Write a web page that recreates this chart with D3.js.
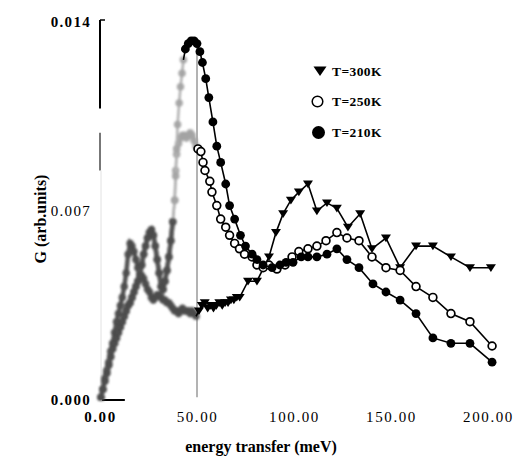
<!DOCTYPE html>
<html>
<head>
<meta charset="utf-8">
<script src="https://cdn.jsdelivr.net/npm/d3@7"></script>
<style>
  body { margin: 0; background: #fff; }
  svg { display: block; }
  text { font-family: "Liberation Serif", "Times New Roman", serif; fill: #000; }
</style>
</head>
<body>
<svg id="chart" width="516" height="459"></svg>
<script>
// Axis ticks
const xTicks = [0, 50, 100, 150, 200];
const xTickLabels = ["0.00", "50.00", "100.00", "150.00", "200.00"];
const yTicks = [0, 0.007, 0.014];
const yTickLabels = ["0.000", "0.007", "0.014"];
const legendLabels = ["T=300K", "T=250K", "T=210K"];

// Generalized density of states, [energy transfer (meV), G]
const t300K = [
  [0.5,0.0001],[1.5,0.0004],[2.5,0.0008],[3.5,0.0011],[4.5,0.0014],[5.5,0.0018],[6.5,0.0021],[7.5,0.0025],[8.5,0.0029],[9.5,0.0032],
  [10.5,0.0035],[11.5,0.0038],[12.5,0.0042],[13.5,0.0047],[14.5,0.0054],[15.5,0.0058],[16.5,0.0057],[17.5,0.0055],[18.5,0.0052],[19.5,0.0049],
  [20.5,0.0047],[21.5,0.0046],[22.5,0.0045],[23.5,0.0043],[24.5,0.0041],[25.5,0.0040],[26.5,0.0038],[27.5,0.0037],[28.5,0.0038],[29.5,0.0039],
  [30.5,0.0039],[31.5,0.0038],[32.5,0.0037],[33.5,0.0037],[34.5,0.0036],[35.5,0.0036],[36.5,0.0035],[37.5,0.0034],[38.5,0.0033],[39.5,0.0033],
  [40.5,0.0032],[41.5,0.0033],[42.5,0.0034],[43.5,0.0033],[44.5,0.0033],[45.5,0.0033],[46.5,0.0032],[47.5,0.0033],[48.5,0.0032],[49.5,0.0031],
  [51,0.0033],[52.5,0.0035],[54,0.0036],[55.5,0.0034],[57,0.0035],[58.5,0.0034],[60,0.0035],[61.5,0.0036],[63,0.0035],[64.5,0.0036],
  [66,0.0036],[67.5,0.0037],[69,0.0037],[70.5,0.0038],[72,0.0038],
  [76.3,0.0044],[80.9,0.0044],[87.1,0.0053],[90.7,0.0062],[94.4,0.0069],[98.4,0.0074],[102.5,0.0077],[107.2,0.0080],[111.8,0.0070],
  [117.0,0.0073],[122.1,0.0071],[127.8,0.0064],[134.1,0.0069],[140.2,0.0056],[147.4,0.0060],[154.7,0.0049],[162.9,0.0057],[171.6,0.0057],
  [180.9,0.0053],[190.7,0.0049],[201.5,0.0049]
];

const t250K = [
  [0.5,0.0001],[1.5,0.0004],[2.5,0.0007],[3.5,0.0010],[4.5,0.0013],[5.5,0.0016],[6.5,0.0019],[7.5,0.0021],[8.5,0.0023],[9.5,0.0025],
  [10.5,0.0027],[11.5,0.0029],[12.5,0.0031],[13.5,0.0033],[14.5,0.0035],[15.5,0.0036],[16.5,0.0038],[17.5,0.0040],[18.5,0.0042],[19.5,0.0044],
  [20.5,0.0046],[21.5,0.0050],[22.5,0.0054],[23.5,0.0057],[24.5,0.0060],[25.5,0.0062],[26.5,0.0063],[27.5,0.0061],[28.5,0.0057],[29.5,0.0052],
  [30.5,0.0047],[31.5,0.0042],[32.5,0.0041],[33.5,0.0044],[34.5,0.0048],[35.5,0.0053],[36.5,0.0059],[37.5,0.0066],[38.5,0.0074],
  [39,0.0085],[39.5,0.0091],[40.5,0.0095],[41.5,0.0097],[42.5,0.0098],[43.5,0.0098],[44.5,0.0097],[45.5,0.0098],[46.5,0.0099],[47.5,0.0098],
  [48.5,0.0096],[49.5,0.0094],[50.5,0.0093],[52,0.0092],[53.1,0.0088],[54.1,0.0085],[56.6,0.0081],[57.7,0.0077],[60.2,0.0072],[62.2,0.0067],
  [64.8,0.0064],[66.8,0.0061],[69.4,0.0058],[71.9,0.0056],[74.5,0.0054],[78.4,0.0053],[80.9,0.0050],[84.1,0.0049],[87.1,0.0050],[91.2,0.00485],
  [95.4,0.0050],[99.0,0.0053],[102.5,0.0055],[107.2,0.0056],[111.8,0.0057],[116.5,0.0059],[122.1,0.0062],[127.3,0.0060],[133.5,0.0059],
  [140.2,0.0053],[147.4,0.0049],[154.7,0.0048],[162.9,0.0042],[171.6,0.0038],[180.9,0.0032],[190.7,0.0029],[202.1,0.0020]
];

const t210K = [
  [0.5,0.0001],[1.5,0.0004],[2.5,0.0007],[3.5,0.0010],[4.5,0.0013],[5.5,0.0016],[6.5,0.0019],[7.5,0.0021],[8.5,0.0023],[9.5,0.0025],
  [10.5,0.0027],[11.5,0.0029],[12.5,0.0031],[13.5,0.0033],[14.5,0.0035],[15.5,0.0036],[16.5,0.0038],[17.5,0.0040],[18.5,0.0042],[19.5,0.0044],
  [20.5,0.0046],[21.5,0.0050],[22.5,0.0054],[23.5,0.0057],[24.5,0.0060],[25.5,0.0062],[26.5,0.0063],[27.5,0.0061],[28.5,0.0057],[29.5,0.0052],
  [30.5,0.0047],[31.5,0.0042],[32.5,0.0041],[33.5,0.0044],[34.5,0.0048],[35.5,0.0053],[36.5,0.0059],[37.5,0.0066],[38.5,0.0074],
  [39,0.0083],[39.5,0.0093],[40,0.0102],[40.8,0.0110],[41.5,0.0116],[42.3,0.0121],[43,0.0126],[44,0.0130],[45.5,0.0132],[47,0.0133],
  [48.5,0.0133],[50,0.0132],[51.5,0.0129],[52.8,0.0125],[54.5,0.0119],[56.1,0.0112],[58.2,0.0103],[60.2,0.0094],[62.2,0.0088],[64.8,0.0080],
  [66.8,0.0072],[69.4,0.0067],[72.4,0.0061],[75,0.0057],[78.4,0.0054],[80.9,0.0052],[84.1,0.0050],[88.7,0.0049],[92.7,0.0050],[95.9,0.0051],
  [99.5,0.0051],[103.7,0.0053],[107.2,0.0053],[111.8,0.0053],[117.0,0.0054],[122.1,0.0056],[127.3,0.0052],[133.5,0.0049],[140.7,0.0043],
  [147.4,0.0040],[154.7,0.0037],[162.9,0.0032],[171.6,0.0023],[180.9,0.0021],[190.7,0.0021],[202.1,0.0014]
];

const svg = d3.select("#chart");

const x = d3.scaleLinear().domain([0, 200]).range([100, 488]);
const y = d3.scaleLinear().domain([0, 0.014]).range([400, 22]);

// soft blur for the densely sampled low-energy part
svg.append("defs").append("filter").attr("id", "soft")
  .append("feGaussianBlur").attr("stdDeviation", 0.8);

// ---- axes ----
const xAxis = svg.append("g").attr("transform", `translate(0,${y(0)})`)
  .call(d3.axisBottom(x).tickValues(xTicks).tickFormat((d, i) => xTickLabels[i]).tickSize(0).tickPadding(11));
xAxis.select(".domain").remove();
xAxis.selectAll("text")
  .attr("font-family", "Liberation Serif, serif")
  .attr("font-size", 15)
  .attr("letter-spacing", 1.6)
  .attr("font-weight", (d, i) => i === 0 ? "bold" : "normal")
  .attr("fill", "#000");

const yAxis = svg.append("g").attr("transform", `translate(${x(0)},0)`)
  .call(d3.axisLeft(y).tickValues(yTicks).tickFormat((d, i) => yTickLabels[i]).tickSize(0).tickPadding(9));
yAxis.select(".domain").remove();
yAxis.selectAll("text")
  .attr("font-family", "Liberation Serif, serif")
  .attr("font-size", 15)
  .attr("letter-spacing", 1.3)
  .attr("font-weight", (d, i) => i === 1 ? "normal" : "bold")
  .attr("fill", "#000");

// y axis line, partly faded
const x0 = x(0);
svg.append("line").attr("x1", x0).attr("x2", x0).attr("y1", y(0.014) - 2).attr("y2", y(0.0108))
  .attr("stroke", "#000").attr("stroke-width", 2);
svg.append("line").attr("x1", x0).attr("x2", x0 + 5).attr("y1", y(0.014) - 2).attr("y2", y(0.014) - 2)
  .attr("stroke", "#000").attr("stroke-width", 1.5);
svg.append("line").attr("x1", x0).attr("x2", x0).attr("y1", y(0.0099)).attr("y2", y(0.0085))
  .attr("stroke", "#777").attr("stroke-width", 2);
svg.append("line").attr("x1", x0 + 1).attr("x2", x0 + 1).attr("y1", y(0.0085)).attr("y2", y(0.0001))
  .attr("stroke", "#e2e2e2").attr("stroke-width", 1);
// zero tick
svg.append("line").attr("x1", x0 + 2).attr("x2", x(12.8)).attr("y1", y(0)).attr("y2", y(0))
  .attr("stroke", "#000").attr("stroke-width", 2);

// vertical marker at 50 meV
svg.append("line").attr("x1", x(50)).attr("x2", x(50)).attr("y1", y(0.0134)).attr("y2", y(0.0001))
  .attr("stroke", "#9a9a9a").attr("stroke-width", 1.5);

// axis titles
svg.append("text").attr("x", 261).attr("y", 452).attr("text-anchor", "middle")
  .attr("font-size", 16).attr("font-weight", "bold")
  .text("energy transfer (meV)");
svg.append("text").attr("transform", "translate(46,219) rotate(-90)").attr("text-anchor", "middle")
  .attr("font-size", 16).attr("font-weight", "bold")
  .text("G (arb.units)");

// ---- data ----
const series = [
  { name: legendLabels[0], data: t300K, shape: "tri" },
  { name: legendLabels[1], data: t250K, shape: "open" },
  { name: legendLabels[2], data: t210K, shape: "dot" }
];

// densely sampled points below ~50 meV print as grey, except the 210K peak top
const isGrey = d => d[0] < 50 && d[1] < 0.0128;
const greyTone = d => d[1] < 0.0068 ? "#4c4c4c" : "#a3a3a3";

const line = d3.line().x(d => x(d[0])).y(d => y(d[1]));
const triPath = "M-5,-3.5L5,-3.5L0,4.2Z";

const greyLayer = svg.append("g").attr("filter", "url(#soft)");
const blackLayer = svg.append("g");

series.forEach(s => {
  const grey = s.data.filter(isGrey);
  const firstBlack = s.data.findIndex(d => !isGrey(d));
  const black = s.data.slice(Math.max(0, firstBlack - 1));

  // grey dense strand: lower part dark, upper peak part light
  const lowPart = grey.filter(d => d[1] < 0.0068);
  const highPart = grey.filter((d, i) => d[1] >= 0.0068 || (i + 1 < grey.length && grey[i + 1][1] >= 0.0068));
  greyLayer.append("path").datum(lowPart).attr("d", line)
    .attr("fill", "none").attr("stroke", "#555").attr("stroke-width", 4.5);
  greyLayer.append("path").datum(highPart).attr("d", line)
    .attr("fill", "none").attr("stroke", "#b0b0b0").attr("stroke-width", 2.5);
  greyLayer.selectAll(null).data(grey).enter().append("circle")
    .attr("cx", d => x(d[0])).attr("cy", d => y(d[1])).attr("r", 3.8)
    .attr("fill", greyTone).attr("opacity", 0.9);

  // black part
  blackLayer.append("path").datum(black).attr("d", line)
    .attr("fill", "none").attr("stroke", "#000").attr("stroke-width", 1.6);
  const pts = black.filter(d => !isGrey(d));
  if (s.shape === "tri") {
    blackLayer.selectAll(null).data(pts).enter().append("path")
      .attr("d", triPath).attr("transform", d => `translate(${x(d[0])},${y(d[1])})`)
      .attr("fill", "#000");
  } else if (s.shape === "open") {
    blackLayer.selectAll(null).data(pts).enter().append("circle")
      .attr("cx", d => x(d[0])).attr("cy", d => y(d[1])).attr("r", 3.9)
      .attr("fill", "#fff").attr("stroke", "#000").attr("stroke-width", 1.7);
  } else {
    blackLayer.selectAll(null).data(pts).enter().append("circle")
      .attr("cx", d => x(d[0])).attr("cy", d => y(d[1])).attr("r", 4.4)
      .attr("fill", "#000");
  }
});

// ---- legend ----
const legend = svg.append("g");
const legendRows = [71, 101.5, 132.5];
legend.append("path").attr("d", "M-6.5,-4.5L6.5,-4.5L0,5Z")
  .attr("transform", `translate(320,${legendRows[0]})`).attr("fill", "#000");
legend.append("circle").attr("cx", 317.5).attr("cy", legendRows[1]).attr("r", 5.3)
  .attr("fill", "#fff").attr("stroke", "#000").attr("stroke-width", 1.5);
legend.append("circle").attr("cx", 318.5).attr("cy", legendRows[2]).attr("r", 6.5).attr("fill", "#000");
legendLabels.forEach((t, i) => {
  legend.append("text").attr("x", 332).attr("y", legendRows[i] + 4.5)
    .attr("font-size", 13.5).attr("font-weight", "bold").attr("letter-spacing", 0.4)
    .text(t);
});
</script>
</body>
</html>
